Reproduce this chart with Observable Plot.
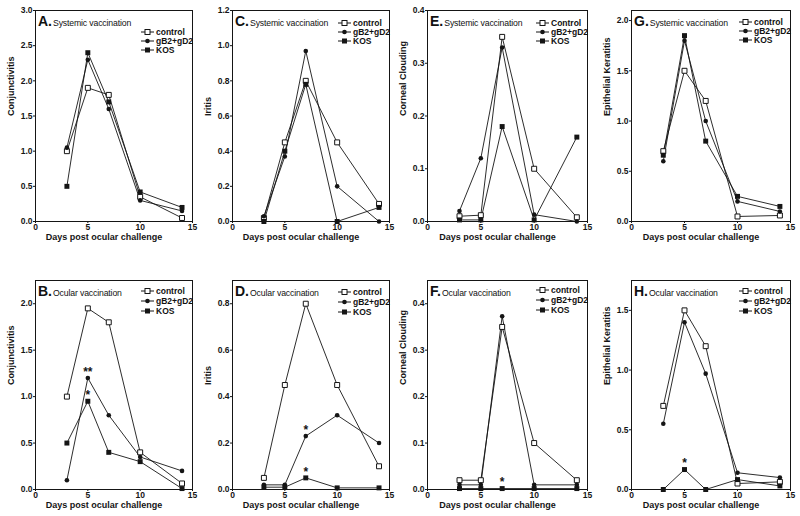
<!DOCTYPE html>
<html><head><meta charset="utf-8">
<script src="https://cdn.jsdelivr.net/npm/d3@7"></script>
<script src="https://cdn.jsdelivr.net/npm/@observablehq/plot@0.6"></script>
<style>
body{margin:0;background:#fff;}
#root{position:relative;width:800px;height:516px;overflow:hidden;font-family:"Liberation Sans",Arial,Helvetica,sans-serif;color:#111;}
.panel{position:absolute;}
.title{position:absolute;white-space:nowrap;line-height:14px;}
.title b{font-size:14px;font-weight:bold;}
.title span{font-size:8.7px;margin-left:1px;letter-spacing:-0.15px;}
.legend{position:absolute;font-size:8.5px;font-weight:bold;white-space:nowrap;}
.legend div{display:flex;align-items:center;}
.legend svg{margin-right:2px;}
</style></head><body><div id="root"></div>
<script>
// ---- shared values ----
const days = [3, 5, 7, 10, 14];
const seriesNames = ["control", "gB2+gD2", "KOS"];
const xTicks = [0, 5, 10, 15];
const xLabel = "Days post ocular challenge";

// ---- A. Conjunctivitis, systemic ----
const A_control = [1.0, 1.9, 1.8, 0.35, 0.05];
const A_gB2gD2 = [1.05, 2.3, 1.6, 0.3, 0.15];
const A_KOS = [0.5, 2.4, 1.7, 0.42, 0.2];
const A_yTicks = [0, 0.5, 1.0, 1.5, 2.0, 2.5, 3.0];

// ---- C. Iritis, systemic ----
const C_control = [0.02, 0.45, 0.8, 0.45, 0.1];
const C_gB2gD2 = [0.03, 0.37, 0.97, 0.2, 0.0];
const C_KOS = [0.0, 0.4, 0.78, 0.0, 0.08];
const C_yTicks = [0, 0.2, 0.4, 0.6, 0.8, 1.0, 1.2];

// ---- E. Corneal clouding, systemic ----
const E_control = [0.01, 0.012, 0.35, 0.1, 0.008];
const E_gB2gD2 = [0.02, 0.12, 0.33, 0.013, 0.0];
const E_KOS = [0.003, 0.003, 0.18, 0.003, 0.16];
const E_yTicks = [0, 0.1, 0.2, 0.3, 0.4];

// ---- G. Epithelial keratitis, systemic ----
const G_control = [0.7, 1.5, 1.2, 0.05, 0.06];
const G_gB2gD2 = [0.6, 1.8, 1.0, 0.2, 0.1];
const G_KOS = [0.66, 1.85, 0.8, 0.25, 0.15];
const G_yTicks = [0, 0.5, 1.0, 1.5, 2.0];

// ---- B. Conjunctivitis, ocular ----
const B_control = [1.0, 1.95, 1.8, 0.4, 0.065];
const B_gB2gD2 = [0.1, 1.2, 0.8, 0.35, 0.2];
const B_KOS = [0.5, 0.95, 0.4, 0.3, 0.01];
const B_yTicks = [0, 0.5, 1.0, 1.5, 2.0];

// ---- D. Iritis, ocular ----
const D_control = [0.05, 0.45, 0.8, 0.45, 0.1];
const D_gB2gD2 = [0.02, 0.02, 0.23, 0.32, 0.2];
const D_KOS = [0.01, 0.01, 0.05, 0.007, 0.007];
const D_yTicks = [0, 0.2, 0.4, 0.6, 0.8];

// ---- F. Corneal clouding, ocular ----
const F_control = [0.02, 0.02, 0.35, 0.1, 0.02];
const F_gB2gD2 = [0.01, 0.01, 0.373, 0.01, 0.01];
const F_KOS = [0.002, 0.002, 0.002, 0.002, 0.002];
const F_yTicks = [0, 0.1, 0.2, 0.3, 0.4];

// ---- H. Epithelial keratitis, ocular ----
const H_control = [0.7, 1.5, 1.2, 0.05, 0.064];
const H_gB2gD2 = [0.55, 1.4, 0.97, 0.14, 0.1];
const H_KOS = [0.0, 0.167, 0.0, 0.083, 0.03];
const H_yTicks = [0, 0.5, 1.0, 1.5];

// significance marks: [series index, day index, text]
const B_stars = [[1, 1, "**"], [2, 1, "*"]];
const D_stars = [[1, 2, "*"], [2, 2, "*"]];
const F_stars = [[2, 2, "*"]];
const H_stars = [[2, 1, "*"]];

const panels = [
  {letter: "A.", sub: "Systemic vaccination", ylabel: "Conjunctivitis", ymax: 3.0, yTicks: A_yTicks, series: [A_control, A_gB2gD2, A_KOS], stars: [], col: 0, row: 0, legendTop: 22, names: seriesNames},
  {letter: "C.", sub: "Systemic vaccination", ylabel: "Iritis", ymax: 1.2, yTicks: C_yTicks, series: [C_control, C_gB2gD2, C_KOS], stars: [], col: 1, row: 0, legendTop: 13, names: seriesNames},
  {letter: "E.", sub: "Systemic vaccination", ylabel: "Corneal Clouding", ymax: 0.4, yTicks: E_yTicks, series: [E_control, E_gB2gD2, E_KOS], stars: [], col: 2, row: 0, legendTop: 13, names: ["Control", "gB2+gD2", "KOS"]},
  {letter: "G.", sub: "Systemic vaccination", ylabel: "Epithelial Keratitis", ymax: 2.1, yTicks: G_yTicks, series: [G_control, G_gB2gD2, G_KOS], stars: [], col: 3, row: 0, legendTop: 12, names: seriesNames},
  {letter: "B.", sub: "Ocular vaccination", ylabel: "Conjunctivitis", ymax: 2.25, yTicks: B_yTicks, series: [B_control, B_gB2gD2, B_KOS], stars: B_stars, col: 0, row: 1, legendTop: 11, names: seriesNames},
  {letter: "D.", sub: "Ocular vaccination", ylabel: "Iritis", ymax: 0.9, yTicks: D_yTicks, series: [D_control, D_gB2gD2, D_KOS], stars: D_stars, col: 1, row: 1, legendTop: 12, names: seriesNames},
  {letter: "F.", sub: "Ocular vaccination", ylabel: "Corneal Clouding", ymax: 0.45, yTicks: F_yTicks, series: [F_control, F_gB2gD2, F_KOS], stars: F_stars, col: 2, row: 1, legendTop: 10, names: seriesNames},
  {letter: "H.", sub: "Ocular vaccination", ylabel: "Epithelial Keratitis", ymax: 1.75, yTicks: H_yTicks, series: [H_control, H_gB2gD2, H_KOS], stars: H_stars, col: 3, row: 1, legendTop: 11, names: seriesNames}
];

// layout (frame edges in page pixels)
const colX = [[35, 192], [232, 389], [427, 587], [631, 790]];
const rowY = [[10, 221], [280, 489]];
const mL = 40, mR = 6, mT = 10, mB = 30;
const ink = "#151515";
const font = '"Liberation Sans", Arial, Helvetica, sans-serif';
const root = document.getElementById("root");

function legendSwatch(kind) {
  const ns = "http://www.w3.org/2000/svg";
  const s = document.createElementNS(ns, "svg");
  s.setAttribute("width", 13); s.setAttribute("height", 8);
  let inner = `<line x1="0" x2="13" y1="4" y2="4" stroke="${ink}" stroke-width="1"/>`;
  if (kind === 0) inner += `<rect x="4" y="1.5" width="5" height="5" fill="#fff" stroke="${ink}"/>`;
  if (kind === 1) inner += `<circle cx="6.5" cy="4" r="2.3" fill="${ink}"/>`;
  if (kind === 2) inner += `<rect x="4" y="1.5" width="5" height="5" fill="${ink}"/>`;
  s.innerHTML = inner;
  return s;
}

for (const p of panels) {
  const [fx0, fx1] = colX[p.col];
  const [fy0, fy1] = rowY[p.row];
  const width = mL + (fx1 - fx0) + mR;
  const height = mT + (fy1 - fy0) + mB;

  const rows = [];
  p.series.forEach((vals, si) => vals.forEach((v, i) => rows.push({series: seriesNames[si], si, day: days[i], value: v})));
  const starRows = p.stars.map(([si, di, t]) => ({day: days[di], value: p.series[si][di], t}));

  const chart = Plot.plot({
    width, height, marginLeft: mL, marginRight: mR, marginTop: mT, marginBottom: mB,
    style: {fontFamily: font, background: "transparent", overflow: "visible", color: ink},
    x: {domain: [0, 15]},
    y: {domain: [0, p.ymax]},
    marks: [
      Plot.frame({stroke: ink, strokeWidth: 1}),
      Plot.line(rows, {x: "day", y: "value", z: "series", stroke: ink, strokeWidth: 0.9}),
      Plot.dot(rows.filter(d => d.si === 0), {x: "day", y: "value", symbol: "square", r: 2.8, fill: "#fff", stroke: ink, strokeWidth: 1}),
      Plot.dot(rows.filter(d => d.si === 1), {x: "day", y: "value", symbol: "circle", r: 2.3, fill: ink, stroke: "none"}),
      Plot.dot(rows.filter(d => d.si === 2), {x: "day", y: "value", symbol: "square", r: 2.8, fill: ink, stroke: "none"}),
      Plot.text(starRows, {x: "day", y: "value", text: "t", dy: -6, fontSize: 12, fontWeight: "bold", fill: ink}),
      Plot.axisX({ticks: xTicks, tickFormat: d => String(d), tickSize: 2, tickPadding: 0, fontSize: 8.5, fontWeight: "bold", label: null, stroke: ink}),
      Plot.axisY({ticks: p.yTicks, tickFormat: d3.format(".1f"), tickSize: 2, tickPadding: 1, fontSize: 8.5, fontWeight: "bold", label: null, stroke: ink}),
      Plot.text([p.ylabel], {frameAnchor: "left", dx: -24, rotate: -90, fontSize: 9, fontWeight: "bold", fill: ink}),
      Plot.text([xLabel], {frameAnchor: "bottom", dx: -10, dy: 18, fontSize: 9, fontWeight: "bold", fill: ink})
    ]
  });
  const holder = document.createElement("div");
  holder.className = "panel";
  holder.style.left = (fx0 - mL) + "px";
  holder.style.top = (fy0 - mT) + "px";
  holder.appendChild(chart);
  root.appendChild(holder);

  // panel title
  const t = document.createElement("div");
  t.className = "title";
  t.style.left = (fx0 + 3) + "px";
  t.style.top = (fy0 + 4) + "px";
  t.innerHTML = `<b>${p.letter}</b><span>${p.sub}</span>`;
  root.appendChild(t);

  // legend
  const lg = document.createElement("div");
  lg.className = "legend";
  lg.style.left = (fx1 - 51) + "px";
  lg.style.top = (fy0 + p.legendTop - 5) + "px";
  p.names.forEach((name, k) => {
    const r = document.createElement("div");
    r.style.height = (p.row === 0 ? 9.3 : 10) + "px";
    r.appendChild(legendSwatch(k));
    const s = document.createElement("span");
    s.textContent = name;
    r.appendChild(s);
    lg.appendChild(r);
  });
  root.appendChild(lg);
}
</script></body></html>
